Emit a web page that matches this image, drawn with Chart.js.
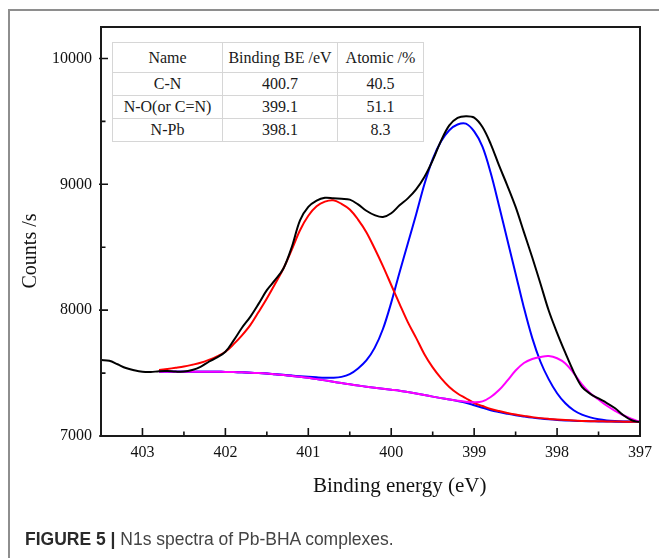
<!DOCTYPE html>
<html>
<head>
<meta charset="utf-8">
<script src="https://cdn.jsdelivr.net/npm/chart.js@4.4.1/dist/chart.umd.min.js"></script>
<style>
  html, body { margin: 0; padding: 0; background: #fff; }
  #wrap { position: relative; width: 659px; height: 558px; overflow: hidden; background: #fff; }
  #frame { position: absolute; left: 8px; top: 9px; width: 700px; height: 600px;
           border-left: 2px solid #8e8e8e; border-top: 2px solid #8e8e8e; }
  #c { position: absolute; left: 0; top: 0; }
  #tbl { position: absolute; left: 112px; top: 42px; width: 311px; border-collapse: collapse;
         table-layout: fixed; background: #fff; border: 1px solid #8a8a8a;
         font-family: "Liberation Serif", "Times New Roman", serif; font-size: 16px; color: #1a1a1a; }
  #tbl td { border: 1px solid #d6d6d6; text-align: center; padding: 0; white-space: nowrap; }
  #tbl tr.h td { height: 29px; }
  #tbl tr.r td { height: 22px; }
  #ytitle { position: absolute; left: -71px; top: 240px; width: 200px; height: 22px; line-height: 22px;
            text-align: center; transform: rotate(-90deg);
            font-family: "Liberation Serif", "Times New Roman", serif; font-size: 20px; color: #111; }
  #xtitle { position: absolute; left: 313px; top: 475px; line-height: 21px; white-space: nowrap;
            font-family: "Liberation Serif", "Times New Roman", serif; font-size: 21px; color: #111; }
  #caption { position: absolute; left: 25px; top: 531px; line-height: 17.5px; white-space: nowrap;
             font-family: "Liberation Sans", Arial, sans-serif; font-size: 17.5px; color: #444; }
  #caption b { color: #2a2a2a; }
</style>
</head>
<body>
<div id="wrap">
  <div id="frame"></div>
  <canvas id="c" width="659" height="558"></canvas>
  <table id="tbl">
    <colgroup><col style="width:110px"><col style="width:115px"><col style="width:86px"></colgroup>
    <tr class="h"><td>Name</td><td>Binding BE /eV</td><td>Atomic /%</td></tr>
    <tr class="r"><td>C-N</td><td>400.7</td><td>40.5</td></tr>
    <tr class="r"><td>N-O(or C=N)</td><td>399.1</td><td>51.1</td></tr>
    <tr class="r"><td>N-Pb</td><td>398.1</td><td>8.3</td></tr>
  </table>
  <div id="ytitle">Counts /s</div>
  <div id="xtitle">Binding energy (eV)</div>
  <div id="caption"><b>FIGURE 5 |</b> N1s spectra of Pb-BHA complexes.</div>
</div>
<script>
// ---------- data ----------
const xMajorTicks = [403, 402, 401, 400, 399, 398, 397];
const xMinorTicks = [402.5, 401.5, 400.5, 399.5, 398.5, 397.5];
const yMajorTicks = [7000, 8000, 9000, 10000];
const yMinorTicks = [7500, 8500, 9500];

// measured spectrum (black)
const energyRaw = [403.5, 403.4, 403.3, 403.2, 403.1, 403.0, 402.9, 402.8, 402.7, 402.6,
  402.5, 402.4, 402.3, 402.2, 402.1, 402.0, 401.9, 401.8, 401.7, 401.6,
  401.5, 401.4, 401.3, 401.2, 401.1, 401.0, 400.9, 400.8, 400.7, 400.6,
  400.5, 400.4, 400.3, 400.2, 400.1, 400.0, 399.9, 399.8, 399.7, 399.6,
  399.5, 399.4, 399.3, 399.2, 399.1, 399.0, 398.9, 398.8, 398.7, 398.6,
  398.5, 398.4, 398.3, 398.2, 398.1, 398.0, 397.9, 397.8, 397.7, 397.6,
  397.5, 397.4, 397.3, 397.2, 397.1, 397.0];
const countsRaw = [7603, 7598, 7570, 7540, 7522, 7510, 7508, 7515, 7516, 7512,
  7512, 7525, 7550, 7590, 7625, 7669, 7760, 7860, 7947, 8050,
  8159, 8240, 8331, 8500, 8714, 8820, 8870, 8893, 8890, 8885,
  8878, 8840, 8790, 8755, 8740, 8770, 8833, 8888, 8960, 9058,
  9190, 9345, 9468, 9528, 9541, 9530, 9455, 9320, 9150, 8990,
  8820, 8620, 8420, 8210, 7995, 7820, 7660, 7510, 7390, 7335,
  7298, 7262, 7220, 7165, 7125, 7110];

// fitted components (each plotted on top of the background)
const energyFit = [402.8, 402.7, 402.6, 402.5, 402.4, 402.3, 402.2, 402.1, 402.0, 401.9,
  401.8, 401.7, 401.6, 401.5, 401.4, 401.3, 401.2, 401.1, 401.0, 400.9,
  400.8, 400.7, 400.6, 400.5, 400.4, 400.3, 400.2, 400.1, 400.0, 399.9,
  399.8, 399.7, 399.6, 399.5, 399.4, 399.3, 399.2, 399.1, 399.0, 398.9,
  398.8, 398.7, 398.6, 398.5, 398.4, 398.3, 398.2, 398.1, 398.0, 397.9,
  397.8, 397.7, 397.6, 397.5, 397.4, 397.3, 397.2, 397.1, 397.0];
const countsCN = [7525, 7533, 7542, 7552, 7566, 7582, 7605, 7633, 7669, 7730,
  7800, 7881, 7985, 8093, 8210, 8331, 8480, 8635, 8750, 8825,
  8862, 8873, 8845, 8800, 8720, 8620, 8490, 8350, 8200, 8050,
  7905, 7780, 7650, 7545, 7460, 7390, 7338, 7300, 7262, 7238,
  7215, 7198, 7183, 7170, 7160, 7150, 7142, 7136, 7131, 7127,
  7123, 7120, 7118, 7117, 7116, 7115, 7114, 7113, 7113];
const countsNO = [7510, 7510, 7510, 7510, 7510, 7510, 7510, 7510, 7509, 7508,
  7506, 7503, 7500, 7496, 7491, 7486, 7480, 7475, 7470, 7466,
  7463, 7463, 7470, 7492, 7537, 7600, 7700, 7850, 8060, 8300,
  8530, 8760, 9000, 9200, 9340, 9430, 9475, 9482, 9420, 9300,
  9090, 8830, 8560, 8290, 8020, 7780, 7590, 7450, 7340, 7260,
  7205, 7170, 7148, 7133, 7124, 7119, 7116, 7114, 7113];
const countsNPb = [7510, 7510, 7510, 7510, 7510, 7510, 7510, 7510, 7509, 7508,
  7506, 7503, 7500, 7496, 7490, 7484, 7478, 7471, 7462, 7452,
  7442, 7431, 7421, 7411, 7401, 7392, 7384, 7376, 7368, 7360,
  7349, 7337, 7325, 7313, 7301, 7290, 7280, 7272, 7268, 7275,
  7310, 7365, 7440, 7520, 7580, 7612, 7628, 7635, 7618, 7577,
  7500, 7410, 7340, 7290, 7240, 7200, 7165, 7135, 7113];
const countsBackground = [7510, 7510, 7510, 7510, 7510, 7510, 7510, 7510, 7509, 7508,
  7506, 7503, 7500, 7496, 7490, 7484, 7478, 7471, 7462, 7452,
  7442, 7431, 7421, 7411, 7401, 7392, 7384, 7376, 7368, 7360,
  7349, 7337, 7325, 7313, 7301, 7290, 7278, 7264, 7245, 7225,
  7205, 7190, 7177, 7165, 7155, 7146, 7139, 7133, 7128, 7124,
  7121, 7119, 7117, 7116, 7115, 7114, 7114, 7113, 7113];

// ---------- chart ----------
const pts = (xs, ys) => xs.map((x, i) => ({ x: x, y: ys[i] }));
const line = (label, xs, ys, color, order) => ({
  label, data: pts(xs, ys), borderColor: color, backgroundColor: color,
  borderWidth: 2, pointRadius: 0, tension: 0.35, fill: false, order
});

const SERIF = '"Liberation Serif", "Times New Roman", serif';

const framePlugin = {
  id: 'framePlugin',
  afterDatasetsDraw(chart) {
    const { ctx, chartArea: a, scales } = chart;
    const xs = scales.x, ys = scales.y;
    ctx.save();
    ctx.strokeStyle = '#111';
    ctx.lineWidth = 1.6;
    ctx.beginPath();
    xMajorTicks.forEach(v => { const p = xs.getPixelForValue(v); ctx.moveTo(p, a.bottom); ctx.lineTo(p, a.bottom - 8); });
    xMinorTicks.forEach(v => { const p = xs.getPixelForValue(v); ctx.moveTo(p, a.bottom); ctx.lineTo(p, a.bottom - 4.5); });
    yMajorTicks.forEach(v => { const p = ys.getPixelForValue(v); ctx.moveTo(a.left - 2, p); ctx.lineTo(a.left + 7, p); });
    yMinorTicks.forEach(v => { const p = ys.getPixelForValue(v); ctx.moveTo(a.left, p); ctx.lineTo(a.left + 4.5, p); });
    ctx.stroke();
    ctx.lineWidth = 2;
    ctx.strokeStyle = '#1a1a1a';
    ctx.strokeRect(a.left, a.top, a.right - a.left, a.bottom - a.top);
    ctx.restore();
  }
};

new Chart(document.getElementById('c'), {
  type: 'line',
  data: {
    datasets: [
      line('Raw', energyRaw, countsRaw, '#000000', 0),
      line('N-Pb', energyFit, countsNPb, '#ff00ff', 1),
      line('C-N', energyFit, countsCN, '#ff0000', 2),
      line('N-O(or C=N)', energyFit, countsNO, '#0000ff', 3),
      line('Background', energyFit, countsBackground, '#0000ff', 4)
    ]
  },
  options: {
    responsive: false,
    devicePixelRatio: 1,
    animation: false,
    events: [],
    layout: { padding: { left: 0, right: 17, top: 27, bottom: 42 } },
    plugins: { legend: { display: false }, tooltip: { enabled: false } },
    scales: {
      x: {
        type: 'linear', reverse: true, min: 397, max: 403.5,
        grid: { display: false, drawTicks: false },
        border: { display: false },
        afterBuildTicks: s => { s.ticks = xMajorTicks.map(v => ({ value: v })); },
        afterFit: s => { s.height = 80; },
        ticks: { padding: 7, maxRotation: 0, autoSkip: false, color: '#111',
                 font: { family: SERIF, size: 16 }, callback: v => String(v) }
      },
      y: {
        type: 'linear', min: 7000, max: 10250,
        grid: { display: false, drawTicks: false },
        border: { display: false },
        afterBuildTicks: s => { s.ticks = yMajorTicks.map(v => ({ value: v })); },
        afterFit: s => { s.width = 101; },
        ticks: { padding: 9, autoSkip: false, color: '#111',
                 font: { family: SERIF, size: 16 }, callback: v => String(v) }
      }
    }
  },
  plugins: [framePlugin]
});
</script>
</body>
</html>
